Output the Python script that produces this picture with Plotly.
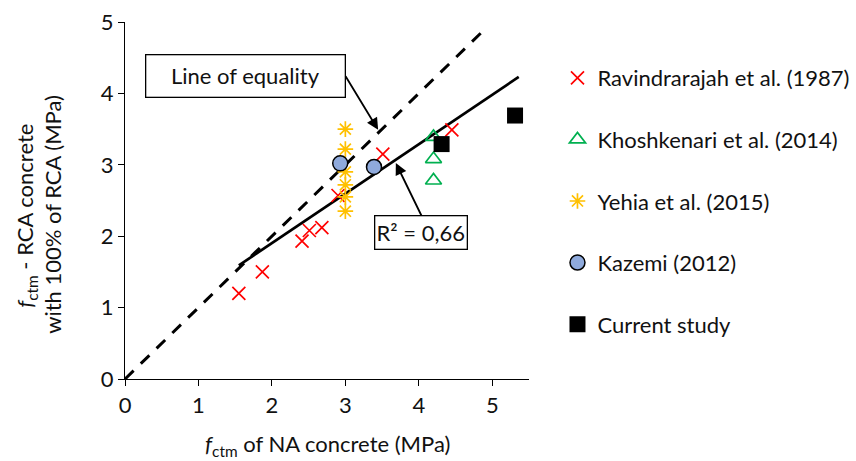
import plotly.graph_objects as go

# ---- data ----
rav_x = [1.55, 1.87, 2.41, 2.51, 2.68, 2.90, 3.51, 4.45]
rav_y = [1.20, 1.50, 1.93, 2.08, 2.12, 2.57, 3.15, 3.49]

kho_x = [4.20, 4.20, 4.20]
kho_y = [3.39, 3.08, 2.78]

yeh_x = [3.00, 3.00, 3.00, 3.00, 3.00, 3.00]
yeh_y = [3.50, 3.22, 2.90, 2.72, 2.55, 2.35]

kaz_x = [2.93, 3.39]
kaz_y = [3.02, 2.97]

cur_x = [4.31, 5.31]
cur_y = [3.29, 3.69]

trend_slope = 0.6925
trend_intercept = 0.518
trend_x = [1.55, 5.36]

equality_x = [0.0, 4.9]

x_ticks = [0, 1, 2, 3, 4, 5]
y_ticks = [0, 1, 2, 3, 4, 5]

FONT = "Lato"
FS = 22
TXT = "#111"

fig = go.Figure()

fig.add_trace(go.Scatter(x=equality_x, y=equality_x, mode="lines",
                         line=dict(color="black", width=3, dash="12px,10px"),
                         showlegend=False, hoverinfo="skip"))
fig.add_trace(go.Scatter(x=trend_x, y=[trend_slope * v + trend_intercept for v in trend_x],
                         mode="lines", line=dict(color="black", width=2.7),
                         showlegend=False, hoverinfo="skip"))

fig.add_trace(go.Scatter(x=rav_x, y=rav_y, mode="markers", name="Ravindrarajah et al. (1987)",
                         legendgroup="a",
                         marker=dict(symbol="x-thin-open", size=13, color="#FF0000",
                                     line=dict(color="#FF0000", width=1.7))))
fig.add_trace(go.Scatter(x=kho_x, y=kho_y, mode="markers", name="Khoshkenari et al. (2014)",
                         legendgroup="b",
                         marker=dict(symbol="triangle-up-open", size=14, color="#00B050",
                                     line=dict(color="#00B050", width=1.7))))
fig.add_trace(go.Scatter(x=yeh_x, y=yeh_y, mode="markers", name="Yehia et al. (2015)",
                         legendgroup="c",
                         marker=dict(symbol="asterisk-open", size=13, color="#FFC000",
                                     line=dict(color="#FFC000", width=1.7))))
fig.add_trace(go.Scatter(x=kaz_x, y=kaz_y, mode="markers", name="Kazemi (2012)",
                         legendgroup="d",
                         marker=dict(symbol="circle", size=15, color="#8FAADC",
                                     line=dict(color="black", width=1.5))))
fig.add_trace(go.Scatter(x=cur_x, y=cur_y, mode="markers", name="Current study",
                         legendgroup="e",
                         marker=dict(symbol="square", size=16, color="black",
                                     line=dict(color="black", width=0))))

axis_common = dict(showgrid=False, zeroline=False, showline=True, linecolor="black", linewidth=1.3,
                   ticks="outside", ticklen=6, tickwidth=1.3, tickcolor="black",
                   tickfont=dict(family=FONT, size=FS, color=TXT))

fig.update_layout(
    width=856, height=461,
    margin=dict(l=125, r=327, t=22, b=82, autoexpand=False),
    paper_bgcolor="white", plot_bgcolor="white",
    font=dict(family=FONT, size=FS, color=TXT),
    xaxis=dict(range=[0, 5.5], tickvals=x_ticks, **axis_common),
    yaxis=dict(range=[0, 5], tickvals=y_ticks, **axis_common),
    legend=dict(x=1.0705, y=0.902, xanchor="left", yanchor="top", tracegroupgap=30,
                font=dict(family=FONT, size=FS, color=TXT), itemwidth=30,
                bgcolor="rgba(0,0,0,0)"),
    showlegend=True,
)

annotations = [
    # axis titles
    dict(xref="paper", yref="paper", x=0.5, y=-0.185, xanchor="center", yanchor="middle",
         text="<i>f</i><sub>ctm</sub> of NA concrete (MPa)", showarrow=False,
         font=dict(family=FONT, size=FS, color=TXT)),
    dict(xref="paper", yref="paper", x=-0.245, y=0.457, xanchor="center", yanchor="middle",
         text="<i>f</i><sub>ctm</sub> - RCA concrete", showarrow=False,
         textangle=-90, font=dict(family=FONT, size=FS, color=TXT)),
    dict(xref="paper", yref="paper", x=-0.178, y=0.46, xanchor="center", yanchor="middle",
         text="with 100% of RCA (MPa)", showarrow=False,
         textangle=-90, font=dict(family=FONT, size=FS, color=TXT)),
    # labelled boxes with their arrows (tail on the box edge)
    dict(xref="x", yref="y", axref="x", ayref="y", x=3.446, y=3.49, ax=3.003, ay=4.24,
         xanchor="right", yanchor="middle",
         text="Line of equality", showarrow=True, arrowhead=2, arrowsize=1.3,
         arrowwidth=1.8, arrowcolor="black",
         bgcolor="white", bordercolor="black", borderwidth=1.3, borderpad=0,
         width=198, height=41, font=dict(family=FONT, size=FS, color=TXT)),
    dict(xref="x", yref="y", axref="x", ayref="y", x=3.687, y=3.025, ax=4.035, ay=2.29,
         xanchor="center", yanchor="top",
         text="R² = 0,66", showarrow=True, arrowhead=2, arrowsize=1.3,
         arrowwidth=1.8, arrowcolor="black",
         bgcolor="white", bordercolor="black", borderwidth=1.3, borderpad=0,
         width=91, height=32, font=dict(family=FONT, size=FS, color=TXT)),
]
fig.update_layout(annotations=annotations)

fig.write_html("out.html")
